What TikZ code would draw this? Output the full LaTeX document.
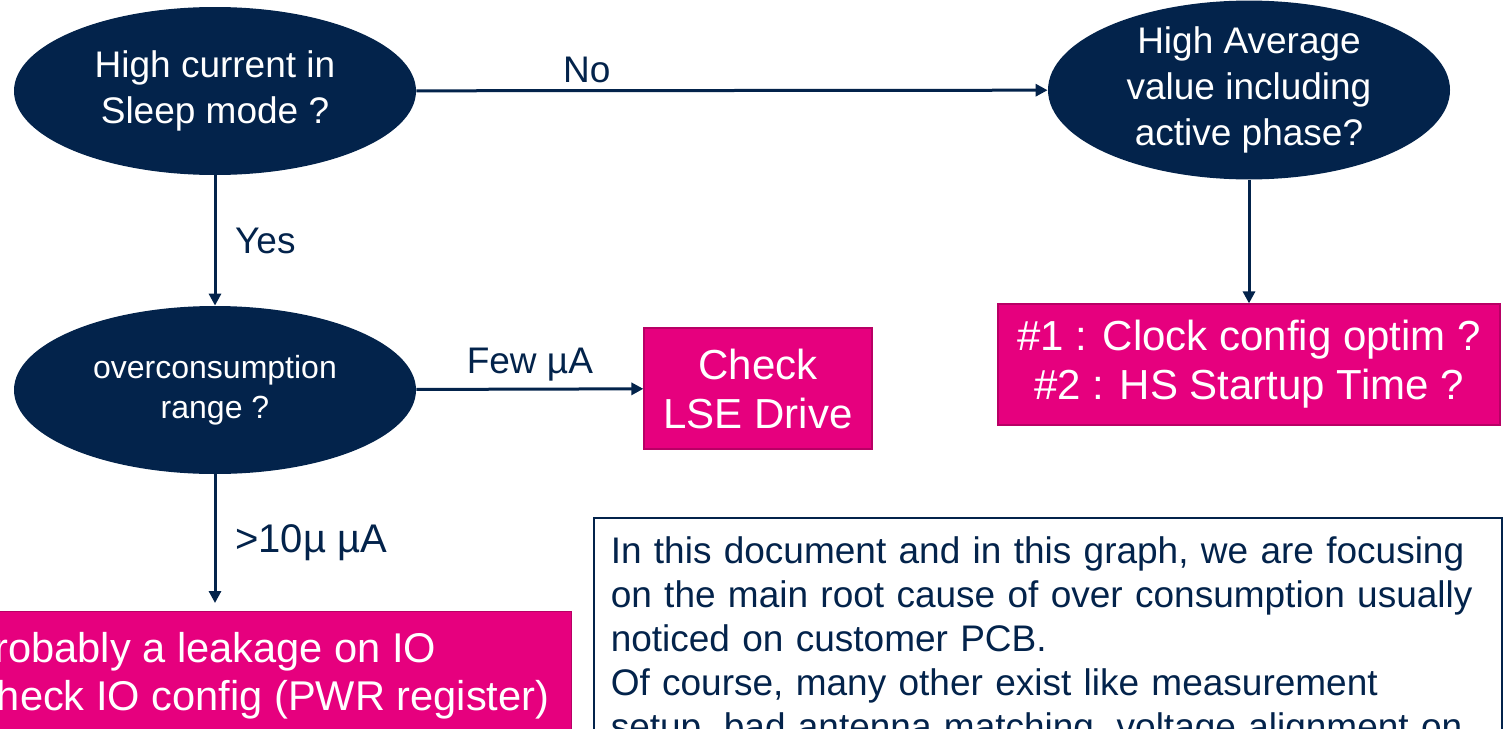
\documentclass[tikz,border=0pt]{standalone}
\usepackage{fontspec}
\setmainfont{Liberation Sans}
\usetikzlibrary{shapes.geometric,arrows.meta}
\definecolor{stblue}{HTML}{03234B}
\definecolor{stpink}{HTML}{E6007E}

\begin{document}
\begin{tikzpicture}[x=0.5pt,y=-0.5pt,
    decision/.style={ellipse, fill=stblue, text=white, minimum width=201pt, minimum height=84pt, inner sep=0pt, align=center, font=\fontsize{18.5}{23}\selectfont},
    action/.style={rectangle, fill=stpink, draw=stpink!80!black, line width=0.6pt, text=white, inner sep=0pt, align=center, font=\fontsize{21}{24.5}\selectfont},
    note/.style={rectangle, draw=stblue, line width=0.75pt, text=stblue, align=left, font=\fontsize{18.5}{22}\selectfont},
    flow/.style={draw=stblue, line width=1.5pt, -{Triangle[length=6pt,width=6pt]}},
    lbl/.style={text=stblue, font=\fontsize{18.5}{22}\selectfont}]
    \useasboundingbox (0,0) rectangle (1503,728);
    \clip (0,0) rectangle (1503,728);

    \node[decision] (sleep) at (215,91) {High current in\\Sleep mode ?};
    \node[decision] (avg) at (1249,90) {High Average\\value including\\active phase?};
    \node[decision, font=\fontsize{16}{20}\selectfont] (range) at (215,390) {overconsumption\\range ?};
    \node[action, minimum width=114pt, minimum height=60.5pt] (lse) at (758,388.5) {Check\\LSE Drive};
    \node[action, minimum width=251pt, minimum height=60.5pt] (clock) at (1249,364.5) {\#1 : Clock config optim ?\\\#2 : HS Startup Time ?};
    \node[action, anchor=north east, align=left, inner xsep=11pt, inner ysep=10.5pt, font=\fontsize{20.8}{24}\selectfont] (leak) at (572,611) {Probably a leakage on IO\\Check IO config (PWR register)};
    \node[note, anchor=north west, text width=437pt, inner xsep=8.5pt, inner ysep=9.5pt] (memo) at (593,517) {In this document and in this graph, we are focusing\\on the main root cause of over consumption usually\\noticed on customer PCB.\\Of course, many other exist like measurement\\setup, bad antenna matching, voltage alignment on};

    \draw[flow] (sleep) -- node[lbl, above, pos=0.27] {No} (avg);
    \draw[flow] (sleep) -- node[lbl, right=6pt] {Yes} (range);
    \draw[flow] (avg) -- (clock);
    \draw[flow] (range) -- node[lbl, above] {Few µA} (lse);
    \draw[flow, shorten >=4pt] (range.south) -- node[lbl, right=6pt, font=\fontsize{20}{24}\selectfont] {>10µ µA} (range.south |- leak.north);
\end{tikzpicture}
\end{document}
